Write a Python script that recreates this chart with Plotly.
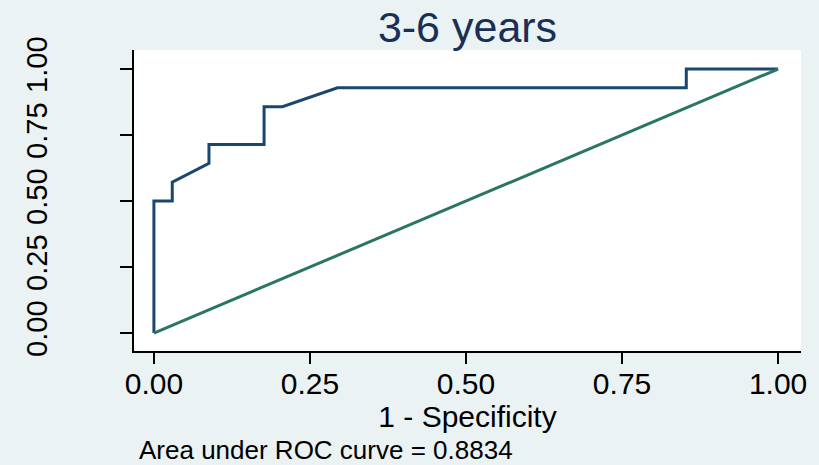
import plotly.graph_objects as go

# ROC curve points (1 - specificity, sensitivity)
fpr = [0.0, 0.0, 0.0294, 0.0294, 0.0882, 0.0882, 0.1765, 0.1765, 0.2059, 0.2941, 0.8529, 0.8529, 1.0]
tpr = [0.0, 0.5, 0.5, 0.5714, 0.6429, 0.7143, 0.7143, 0.8571, 0.8571, 0.9286, 0.9286, 1.0, 1.0]
ref_x = [0.0, 1.0]
ref_y = [0.0, 1.0]
ticks = [0.0, 0.25, 0.5, 0.75, 1.0]
tick_text = ["0.00", "0.25", "0.50", "0.75", "1.00"]
title_text = "3-6 years"
auc_text = "Area under ROC curve = 0.8834"

FONT = "Liberation Sans, Arial, sans-serif"

fig = go.Figure()
fig.add_trace(go.Scatter(x=fpr, y=tpr, mode="lines",
                         line=dict(color="#1a476f", width=3), showlegend=False))
fig.add_trace(go.Scatter(x=ref_x, y=ref_y, mode="lines",
                         line=dict(color="#2b7563", width=3), showlegend=False))

fig.update_layout(
    width=819, height=465,
    margin=dict(l=134, r=16, t=50, b=114),
    paper_bgcolor="#eaf2f3",
    plot_bgcolor="white",
    font=dict(family=FONT, color="black"),
    title=dict(text=title_text, x=0.5, xref="paper", xanchor="center",
               y=1 - 27 / 465, yref="container", yanchor="middle",
               font=dict(size=43, color="#1a2f55", family=FONT)),
    xaxis=dict(range=[-0.0319, 1.0367], tickvals=ticks, ticktext=tick_text,
               showgrid=False, zeroline=False, showline=True, linecolor="black",
               linewidth=2, ticks="outside", ticklen=11, tickwidth=2, tickcolor="black",
               tickfont=dict(size=30), ticklabelstandoff=-6,
               title=dict(text="1 - Specificity", font=dict(size=30), standoff=0)),
    yaxis=dict(range=[-0.068, 1.072], tickvals=ticks, ticktext=tick_text,
               showgrid=False, zeroline=False, showline=True, linecolor="black",
               linewidth=2, ticks="outside", ticklen=12, tickwidth=2, tickcolor="black",
               tickfont=dict(size=29), tickangle=-90, ticklabelstandoff=61),
    annotations=[dict(text=auc_text, xref="paper", yref="paper",
                      x=0.004, y=-99 / 301, xanchor="left", yanchor="middle",
                      showarrow=False, font=dict(size=26, color="black"))],
)

fig.write_html("out.html")
